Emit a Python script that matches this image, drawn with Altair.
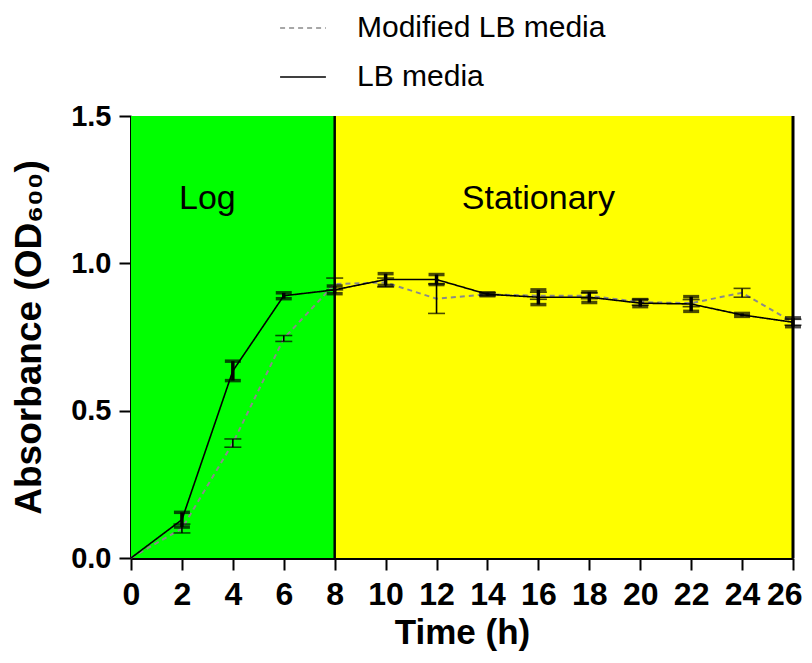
import altair as alt
import pandas as pd

# ---- data ----
time = [0, 2, 4, 6, 8, 10, 12, 14, 16, 18, 20, 22, 24, 26]
lb_mean = [0, 0.13, 0.635, 0.89, 0.91, 0.945, 0.945, 0.895, 0.885, 0.885, 0.865, 0.862, 0.825, 0.80]
lb_err = [0, 0.025, 0.033, 0.01, 0.013, 0.02, 0.017, 0.005, 0.025, 0.018, 0.012, 0.025, 0.005, 0.015]
mod_mean = [0, 0.10, 0.39, 0.745, 0.93, 0.935, 0.88, 0.895, 0.89, 0.89, 0.868, 0.865, 0.90, 0.80]
mod_err = [0, 0.015, 0.014, 0.01, 0.02, 0.015, 0.05, 0.005, 0.012, 0.01, 0.01, 0.012, 0.015, 0.01]

series_names = ["Modified LB media", "LB media"]
series_colors = ["#8a8a8a", "#000000"]

phase_names = ["Log", "Stationary"]
phase_start = [0, 8]
phase_end = [8, 26]
phase_colors = ["#00FF00", "#FFFF00"]
phase_label_x = [3, 16]
phase_label_y = 1.22

x_ticks = list(range(0, 27, 2))
y_ticks = [0, 0.5, 1.0, 1.5]

# ---- tables ----
lb = pd.DataFrame({"t": time, "v": lb_mean, "e": lb_err, "series": "LB media"})
mod = pd.DataFrame({"t": time, "v": mod_mean, "e": mod_err, "series": "Modified LB media"})
phases = pd.DataFrame({"phase": phase_names, "x0": phase_start, "x1": phase_end,
                       "lx": phase_label_x, "ly": phase_label_y, "col": phase_colors})

FONT = "Liberation Sans, Arial, sans-serif"

xscale = alt.Scale(domain=[0, 26], nice=False, zero=False)
yscale = alt.Scale(domain=[0, 1.5], nice=False)

xaxis = alt.Axis(values=x_ticks, title="Time (h)", labelFont=FONT, labelFontSize=32,
                 labelFontWeight="bold", labelColor="black", tickSize=12, tickWidth=2,
                 tickColor="black", domainColor="black", domainWidth=3, labelPadding=9,
                 titleFont=FONT, titleFontSize=35, titleFontWeight="bold", titleColor="black",
                 titlePadding=5, grid=False, labelFlush=True, labelFlushOffset=9)
yaxis = alt.Axis(values=y_ticks, format=".1f", title="Absorbance (OD\u2086\u2080\u2080)",
                 labelFont=FONT, labelFontSize=29, labelFontWeight="bold", labelColor="black",
                 tickSize=12, tickWidth=2, tickColor="black", domainColor="black", domainWidth=3,
                 labelPadding=8, titleFont=FONT, titleFontSize=37, titleFontWeight="bold",
                 titleColor="black", titlePadding=22, grid=False)

base_ph = alt.Chart(phases)
rects = base_ph.mark_rect(opacity=1).encode(
    x=alt.X("x0:Q", scale=xscale, axis=xaxis),
    x2="x1:Q",
    y=alt.datum(0, scale=yscale, axis=yaxis),
    y2=alt.datum(1.5),
    fill=alt.Fill("col:N", scale=None, legend=None),
)
divider = alt.Chart(pd.DataFrame({"x": [phase_end[0]]})).mark_rule(color="black", strokeWidth=2.5).encode(
    x=alt.X("x:Q", scale=xscale))
right_edge = alt.Chart(pd.DataFrame({"x": [phase_end[1]]})).mark_rule(color="black", strokeWidth=3).encode(
    x=alt.X("x:Q", scale=xscale))
labels = base_ph.mark_text(font=FONT, fontSize=34, color="black", baseline="middle").encode(
    x=alt.X("lx:Q", scale=xscale), y=alt.Y("ly:Q", scale=yscale), text="phase:N")

color_enc = alt.Color("series:N", scale=alt.Scale(domain=series_names, range=series_colors),
                      title=None)
dash_enc = alt.StrokeDash("series:N", scale=alt.Scale(domain=series_names, range=[[5, 4], [1, 0]]),
                          title=None)

mod_line = alt.Chart(mod).mark_line(strokeWidth=2).encode(
    x=alt.X("t:Q", scale=xscale), y=alt.Y("v:Q", scale=yscale), color=color_enc, strokeDash=dash_enc)
lb_line = alt.Chart(lb).mark_line(strokeWidth=1.6).encode(
    x=alt.X("t:Q", scale=xscale), y=alt.Y("v:Q", scale=yscale), color=color_enc, strokeDash=dash_enc)


def errbars(df, width, cap):
    b = alt.Chart(df).transform_filter("datum.e > 0").transform_calculate(
        lo="datum.v - datum.e", hi="datum.v + datum.e")
    rule = b.mark_rule(color="black", strokeWidth=width).encode(
        x=alt.X("t:Q", scale=xscale), y=alt.Y("lo:Q", scale=yscale), y2="hi:Q")
    top = b.mark_tick(color="black", orient="horizontal", size=cap, thickness=width).encode(
        x=alt.X("t:Q", scale=xscale), y=alt.Y("hi:Q", scale=yscale))
    bot = b.mark_tick(color="black", orient="horizontal", size=cap, thickness=width).encode(
        x=alt.X("t:Q", scale=xscale), y=alt.Y("lo:Q", scale=yscale))
    return rule + top + bot


chart = alt.layer(
    rects, divider, right_edge, labels,
    mod_line, errbars(mod, 1.6, 17),
    lb_line, errbars(lb, 3.5, 16),
).properties(
    width=662, height=442,
    autosize=alt.AutoSizeParams(type="none"),
    padding={"left": 123, "top": 108, "right": 11, "bottom": 97},
).configure_view(stroke="#555", strokeWidth=1).configure_legend(
    orient="none", legendX=148, legendY=-112, labelFont=FONT, labelFontSize=30,
    labelColor="black", symbolType="stroke", symbolSize=2100, symbolStrokeWidth=1.6,
    labelOffset=30, rowPadding=10, labelLimit=0,
)

chart.save("out.html", embed_options={"renderer": "svg", "actions": False})
